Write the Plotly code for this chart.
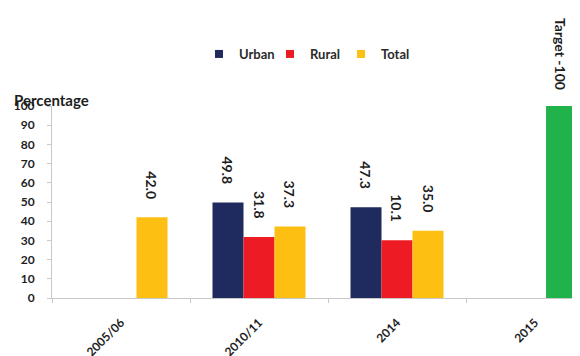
import plotly.graph_objects as go

categories = ["2005/06", "2010/11", "2014", "2015"]
urban = [None, 49.8, 47.3, None]
rural = [None, 31.8, 30.1, None]
total = [42.0, 37.3, 35.0, None]
target = [None, None, None, 100]
urban_labels = ["", "49.8", "47.3", ""]
rural_labels = ["", "31.8", "10.1", ""]
total_labels = ["42.0", "37.3", "35.0", ""]
target_labels = ["", "", "", "Target -100"]
y_ticks = [0, 10, 20, 30, 40, 50, 60, 70, 80, 90, 100]

FONT = "Lato, 'Open Sans', sans-serif"
C_URBAN = "#1F2A5E"
C_RURAL = "#ED1C24"
C_TOTAL = "#FDBF12"
C_TARGET = "#22B24C"
TXT = "#1e1e1e"

fig = go.Figure()
fig.add_trace(go.Bar(name="Urban", x=categories, y=urban, marker_color=C_URBAN, marker_line_width=0, showlegend=False))
fig.add_trace(go.Bar(name="Rural", x=categories, y=rural, marker_color=C_RURAL, marker_line_width=0, showlegend=False))
fig.add_trace(go.Bar(name="Total", x=categories, y=total, marker_color=C_TOTAL, marker_line_width=0, showlegend=False))
fig.add_trace(go.Bar(name="Target", x=categories, y=target, marker_color=C_TARGET,
                     marker_line_width=0, showlegend=False, offset=0.08, width=0.23))
# legend entries with small square keys
for name, col in [("Urban", C_URBAN), ("Rural", C_RURAL), ("Total", C_TOTAL)]:
    fig.add_trace(go.Scatter(name=name, x=[None], y=[None], mode="markers",
                             marker=dict(symbol="square", size=8, color=col), showlegend=True))

annotations = []
for vals, labs, shift in [(urban, urban_labels, -31), (rural, rural_labels, 0), (total, total_labels, 31)]:
    for i, (v, t) in enumerate(zip(vals, labs)):
        if v is None or not t:
            continue
        annotations.append(dict(x=i, y=v, xref="x", yref="y", text=f"<b>{t}</b>", textangle=90,
                                showarrow=False, xanchor="center", yanchor="bottom",
                                xshift=shift, yshift=16,
                                font=dict(family=FONT, size=14, color=TXT)))
for i, (v, t) in enumerate(zip(target, target_labels)):
    if v is None:
        continue
    annotations.append(dict(x=i, y=v, xref="x", yref="y", text=f"<b>{t}</b>", textangle=90,
                            showarrow=False, xanchor="center", yanchor="bottom",
                            xshift=26, yshift=14,
                            font=dict(family=FONT, size=14, color=TXT)))
annotations.append(dict(x=0, y=100, xref="paper", yref="y", xanchor="left", yanchor="middle",
                        xshift=-40, yshift=6,
                        text="<b>Percentage</b>", showarrow=False,
                        font=dict(family=FONT, size=15, color=TXT)))

plot_h = 348 - 98 - 58
fig.update_layout(
    width=572, height=348,
    margin=dict(l=44, r=0, t=98, b=58, autoexpand=False),
    paper_bgcolor="white", plot_bgcolor="white",
    barmode="group", bargap=0.326, bargroupgap=0,
    font=dict(family=FONT, size=12, color=TXT),
    legend=dict(orientation="h", x=(199 - 52) / 528, xanchor="left",
                y=1 + (98 - 46) / plot_h, yref="paper", yanchor="middle", xref="paper",
                font=dict(family=FONT, size=13, color="#2a2a2a", weight="bold"),
                itemwidth=30, entrywidth=26, entrywidthmode="pixels",
                traceorder="normal", tracegroupgap=0),
    annotations=annotations,
    xaxis=dict(type="category", range=[-0.5, 3.326], showgrid=False, showline=True,
               automargin=False,
               linecolor="#c8c8c8", linewidth=1, ticks="outside", ticklen=4, tickcolor="#c8c8c8",
               tickangle=-45, tickson="boundaries", ticklabelstandoff=12,
               tickfont=dict(family=FONT, size=12, color=TXT),
               tickvals=categories, ticktext=[f"<b>{c}</b>" for c in categories]),
    yaxis=dict(range=[0, 100], showgrid=False, showline=True, linecolor="#c8c8c8", linewidth=1,
               automargin=False,
               ticks="outside", ticklen=4, tickcolor="#c8c8c8", zeroline=False,
               ticklabelstandoff=10,
               tickvals=y_ticks, ticktext=[f"<b>{v}</b>" for v in y_ticks],
               tickfont=dict(family=FONT, size=12, color=TXT)),
)

fig.write_html("out.html")
